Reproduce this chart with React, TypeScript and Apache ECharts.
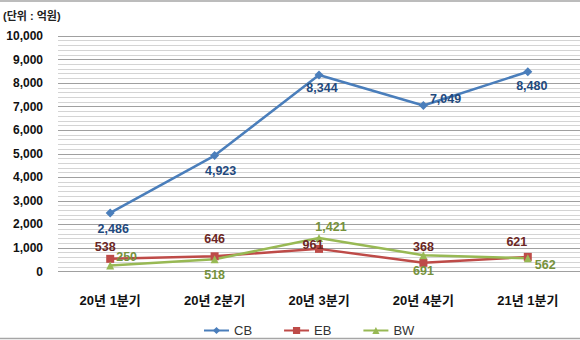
import React, { useEffect, useRef } from "react";
import * as echarts from "echarts";

const categories = ["20년 1분기", "20년 2분기", "20년 3분기", "20년 4분기", "21년 1분기"];
const cbValues = [2486, 4923, 8344, 7049, 8480];
const ebValues = [538, 646, 961, 368, 621];
const bwValues = [250, 518, 1421, 691, 562];
const yTicks = [0, 1000, 2000, 3000, 4000, 5000, 6000, 7000, 8000, 9000, 10000];
const unitTitle = "(단위 : 억원)";

const FONT = "'Liberation Sans', 'Noto Sans CJK KR', sans-serif";

// label placement per point (style, not data)
const cbLabel = [
  { position: "bottom", distance: 5, offset: [3, 0] },
  { position: "bottom", distance: 5, offset: [6, 0] },
  { position: "bottom", distance: 2, offset: [3, 0] },
  { position: "right", distance: 2, offset: [0, -6] },
  { position: "bottom", distance: 3, offset: [4, 0] },
];
const ebLabel = [
  { position: "top", distance: 2, offset: [-5, 0] },
  { position: "top", distance: 5, offset: [0, -2] },
  { position: "top", distance: 0, offset: [-6, 6] },
  { position: "top", distance: 6, offset: [0, 0] },
  { position: "top", distance: 5, offset: [-11, 0] },
];
const bwLabel = [
  { position: "right", distance: 2, offset: [0, -9] },
  { position: "bottom", distance: 5, offset: [0, 0] },
  { position: "top", distance: 1, offset: [12, 0] },
  { position: "bottom", distance: 6, offset: [0, 0] },
  { position: "right", distance: 3, offset: [0, 7] },
];

const fmt = (v: number) => v.toLocaleString("en-US");

export default function App() {
  const ref = useRef<HTMLDivElement>(null);
  useEffect(() => {
    document.body.style.margin = "0";
    const chart = echarts.init(ref.current!, undefined, { renderer: "svg" });
    const mk = (vals: number[], lbl: any[], color: string) =>
      vals.map((v, i) => ({
        value: v,
        label: {
          position: lbl[i].position,
          distance: lbl[i].distance,
          offset: lbl[i].offset,
          color,
        },
      }));
    const labelBase = {
      show: true,
      fontFamily: FONT,
      fontSize: 12.5,
      fontWeight: "bold",
      formatter: (p: any) => fmt(p.value),
    };
    chart.setOption({
      animation: false,
      textStyle: { fontFamily: FONT },
      graphic: [
        { type: "line", shape: { x1: 0, y1: 1, x2: 580, y2: 1 }, style: { stroke: "#a6a6a6", lineWidth: 1.5 } },
        { type: "line", shape: { x1: 0, y1: 338.5, x2: 580, y2: 338.5 }, style: { stroke: "#a6a6a6", lineWidth: 1.5 } },
        {
          type: "text",
          left: 3,
          top: 10,
          style: { text: unitTitle, font: `bold 11px ${FONT}`, fill: "#222" },
        },
      ],
      grid: { left: 58, top: 36, width: 541, bottom: 68.5, containLabel: false },
      legend: {
        left: 198,
        top: 319,
        itemWidth: 25,
        itemHeight: 9,
        itemGap: 31,
        textStyle: { fontFamily: FONT, fontSize: 13, color: "#333" },
        data: ["CB", "EB", "BW"],
      },
      xAxis: {
        type: "category",
        data: categories,
        boundaryGap: true,
        axisLine: { show: false },
        axisTick: { show: false },
        axisLabel: { margin: 22, fontFamily: FONT, fontSize: 13, fontWeight: "bold", color: "#111" },
      },
      yAxis: {
        type: "value",
        min: yTicks[0],
        max: yTicks[yTicks.length - 1],
        interval: 1000,
        axisLine: { show: false },
        axisTick: { show: false },
        axisLabel: {
          margin: 15,
          fontFamily: FONT,
          fontSize: 12,
          fontWeight: "bold",
          color: "#111",
          formatter: (v: number) => fmt(v),
        },
        splitLine: { show: true, lineStyle: { color: "#a0a0a0", width: 1 } },
        minorTick: { show: false, splitNumber: 5 },
        minorSplitLine: { show: true, lineStyle: { color: "#d4d4d4", width: 1 } },
      },
      series: [
        {
          name: "CB",
          type: "line",
          data: mk(cbValues, cbLabel, "#1F497D"),
          symbol: "diamond",
          symbolSize: 9,
          lineStyle: { color: "#4A7EBB", width: 2.5 },
          itemStyle: { color: "#4A7EBB" },
          label: labelBase,
          z: 3,
        },
        {
          name: "EB",
          type: "line",
          data: mk(ebValues, ebLabel, "#6B2624"),
          symbol: "rect",
          symbolSize: 8,
          lineStyle: { color: "#BE4B48", width: 2.5 },
          itemStyle: { color: "#BE4B48" },
          label: labelBase,
          z: 2,
        },
        {
          name: "BW",
          type: "line",
          data: mk(bwValues, bwLabel, "#76923C"),
          symbol: "triangle",
          symbolSize: 8,
          lineStyle: { color: "#98B954", width: 2.5 },
          itemStyle: { color: "#98B954" },
          label: labelBase,
          z: 2,
        },
      ],
    });
    return () => chart.dispose();
  }, []);
  return <div ref={ref} style={{ width: 580, height: 340 }} />;
}
